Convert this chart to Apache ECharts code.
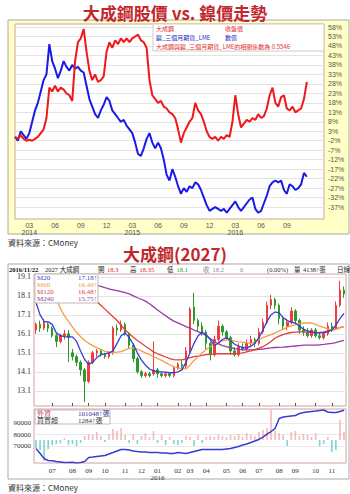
<!DOCTYPE html>
<html><head><meta charset="utf-8">
<script src="https://cdn.jsdelivr.net/npm/echarts@6/dist/echarts.min.js"></script>
<style>html,body{margin:0;padding:0;background:#fff;}#c{width:350px;height:494px;}</style>
</head><body><div id="c"></div><script>
// ---------- top chart: 10-day slots ----------
const topDates = [
'2014/01/11','2014/01/21',
'2014/02/01','2014/02/11','2014/02/21','2014/03/01','2014/03/11','2014/03/21',
'2014/04/01','2014/04/11','2014/04/21','2014/05/01','2014/05/11','2014/05/21',
'2014/06/01','2014/06/11','2014/06/21','2014/07/01','2014/07/11','2014/07/21',
'2014/08/01','2014/08/11','2014/08/21','2014/09/01','2014/09/11','2014/09/21',
'2014/10/01','2014/10/11','2014/10/21','2014/11/01','2014/11/11','2014/11/21',
'2014/12/01','2014/12/11','2014/12/21','2015/01/01','2015/01/11','2015/01/21',
'2015/02/01','2015/02/11','2015/02/21','2015/03/01','2015/03/11','2015/03/21',
'2015/04/01','2015/04/11','2015/04/21','2015/05/01','2015/05/11','2015/05/21',
'2015/06/01','2015/06/11','2015/06/21','2015/07/01','2015/07/11','2015/07/21',
'2015/08/01','2015/08/11','2015/08/21','2015/09/01','2015/09/11','2015/09/21',
'2015/10/01','2015/10/11','2015/10/21','2015/11/01','2015/11/11','2015/11/21',
'2015/12/01','2015/12/11','2015/12/21','2016/01/01','2016/01/11','2016/01/21',
'2016/02/01','2016/02/11','2016/02/21','2016/03/01','2016/03/11','2016/03/21',
'2016/04/01','2016/04/11','2016/04/21','2016/05/01','2016/05/11','2016/05/21',
'2016/06/01','2016/06/11','2016/06/21','2016/07/01','2016/07/11','2016/07/21',
'2016/08/01','2016/08/11','2016/08/21','2016/09/01','2016/09/11','2016/09/21',
'2016/10/01','2016/10/11','2016/10/21','2016/11/01','2016/11/11','2016/11/21',
'2016/12/01','2016/12/11','2016/12/21','2017/01/01','2017/01/11'];
const stockPct = [0,-1,1,-1,-2,-1.5,-2,-1,0,2, 4,10,26,24,27,24,26,25,23,22,
 19,40,50,52,57,45,35,30,33,29, 30,32,45,50,47,51,49,52,50,52,
 50,52,53,54,51,50,47,30,22,20, 18,19,16,15,13,12,10,4,-3,2,
 5,8,10,18,14,12,8,3,0,-1, 0,-2,0,-1,1,0,8,22,12,5,
 7,9,8,10,9,12,10,11,15,22, 26,18,16,21,22,15,14,16,13,14, 15,20,29];
const nickelPct = [0,-2,3,1,-1,2,8,14,18,24, 30,33,49,40,36,31,35,40,37,35,
 38,36,37,35,34,27,20,16,12,10, 14,17,21,19,14,12,10,8,9,6,
 4,2,-3,-9,-10,-6,-1,2,-3,-6, -3,-6,-12,-20,-23,-17,-21,-26,-30,-27,
 -29,-26,-27,-24,-25,-28,-32,-36,-39,-38, -37,-38,-39,-38,-40,-38,-36,-34,-37,-39,
 -37,-35,-33,-32,-38,-40,-39,-35,-31,-26, -24,-23,-24,-23,-28,-30,-25,-26,-28,-27, -25,-19,-21];
const pctTicks = [58,53,48,43,38,33,28,23,18,13,8,3,-2,-7,-12,-17,-22,-27,-32,-37];
const quarterMonths = ['03','06','09','12'];
const lastTopLabel = '2016/09/01';

// ---------- bottom chart: weekly ----------
const weeks = [
'2015-06-01','2015-06-08','2015-06-15','2015-06-22','2015-06-29','2015-07-06','2015-07-13','2015-07-20','2015-07-27',
'2015-08-03','2015-08-10','2015-08-17','2015-08-24','2015-08-31','2015-09-07','2015-09-14','2015-09-21','2015-09-28',
'2015-10-05','2015-10-12','2015-10-19','2015-10-26','2015-11-02','2015-11-09','2015-11-16','2015-11-23','2015-11-30',
'2015-12-07','2015-12-14','2015-12-21','2015-12-28','2016-01-04','2016-01-11','2016-01-18','2016-01-25','2016-02-01',
'2016-02-15','2016-02-22','2016-02-29','2016-03-07','2016-03-14','2016-03-21','2016-03-28','2016-04-04','2016-04-11',
'2016-04-18','2016-04-25','2016-05-02','2016-05-09','2016-05-16','2016-05-23','2016-05-30','2016-06-06','2016-06-13',
'2016-06-20','2016-06-27','2016-07-04','2016-07-11','2016-07-18','2016-07-25','2016-08-01','2016-08-08','2016-08-15',
'2016-08-22','2016-08-29','2016-09-05','2016-09-12','2016-09-19','2016-09-26','2016-10-03','2016-10-10','2016-10-17',
'2016-10-24','2016-10-31','2016-11-07','2016-11-14','2016-11-21'];
const monthTickWeeks = ['2015-06-29','2015-08-03','2015-08-31','2015-09-28','2015-11-02','2015-11-30','2015-12-28',
'2016-02-01','2016-02-29','2016-03-28','2016-05-02','2016-05-30','2016-06-27','2016-08-01','2016-08-29','2016-10-03','2016-10-31'];
const monthTickLabels = ['07','08','09','10','11','12','01\n2016','02','03','04','05','06','07','08','09','10','11'];
// [open, close, low, high]
const kData = [
[16.3,16.6,16.1,16.7],[16.6,16.4,16.2,16.8],[16.4,16.7,16.3,16.9],[16.6,16.4,16.2,16.7],[16.4,16.0,15.9,16.5],
[16.0,15.7,15.4,16.1],[15.7,16.0,15.6,16.1],[16.0,16.1,15.8,16.3],[16.1,15.9,14.6,16.3],[15.1,14.9,14.7,15.3],
[14.9,14.6,14.4,15.0],[14.6,14.2,13.9,14.7],[14.2,13.6,12.5,14.3],[13.6,14.6,13.5,14.7],[14.6,15.1,14.5,15.2],
[15.1,15.2,14.9,15.3],[15.2,15.0,14.9,15.3],[15.0,14.9,14.8,15.1],[14.9,15.1,14.8,15.2],[15.1,16.4,15.0,16.5],
[16.4,16.3,16.0,16.6],[16.3,16.6,16.2,16.8],[16.6,16.1,16.0,16.7],[16.1,15.5,15.3,16.2],[15.5,14.8,14.6,15.6],
[14.8,14.1,14.0,14.9],[14.1,13.9,13.8,14.2],[13.9,14.0,13.8,14.1],[14.0,13.9,13.8,14.1],[14.0,14.2,13.9,15.7],
[14.2,14.0,13.8,14.3],[14.0,13.9,13.8,14.1],[13.9,14.0,13.8,14.1],[14.0,13.9,13.8,14.1],[13.9,14.3,13.8,14.4],
[14.3,14.5,14.2,14.6],[14.5,14.4,14.2,14.7],[14.4,15.2,14.3,15.4],[15.2,17.4,15.1,17.5],[17.5,16.8,16.6,18.25],
[16.8,16.5,16.2,16.9],[16.5,16.2,16.0,16.7],[16.2,15.6,15.3,16.3],[15.6,15.0,14.7,15.7],[15.0,15.8,14.9,16.0],
[15.8,16.5,15.7,16.8],[16.5,16.2,16.0,16.6],[16.2,15.9,15.8,16.3],[15.9,15.2,15.0,16.0],[15.2,15.0,14.9,15.4],
[15.0,15.4,14.9,15.6],[15.4,15.3,15.2,15.6],[15.3,15.6,15.2,15.8],[15.6,15.8,15.4,16.0],[15.8,15.6,15.4,15.9],
[15.6,16.2,15.5,16.4],[16.2,16.7,16.1,16.9],[16.7,17.6,16.6,17.8],[17.6,17.9,17.4,18.15],[17.9,17.6,17.4,18.0],
[17.6,16.9,16.6,17.7],[16.9,16.5,16.3,17.0],[16.5,16.7,16.3,16.9],[16.7,17.3,16.6,17.5],[17.3,16.8,16.6,17.4],
[16.8,16.3,16.1,16.9],[16.3,16.2,16.0,16.5],[16.2,16.0,15.9,16.4],[16.0,16.3,15.9,16.4],[16.3,16.0,15.9,16.4],
[16.0,15.9,15.8,16.2],[15.9,16.1,15.8,16.2],[16.1,16.5,16.0,16.7],[16.5,16.4,16.2,16.7],[16.4,17.6,16.3,17.8],
[17.6,18.4,17.5,18.9],[18.4,18.2,18.0,18.6]];
const ma20 = [17.75,17.1,16.75,16.73,16.6,16.15,16.0,15.95,15.94,15.94,15.7,15.2,14.75,14.5,14.6,14.85,15.0,15.05,15.1,15.2,
15.6,16.0,16.15,15.9,15.55,15.1,14.73,14.45,14.25,14.15,14.1,14.1,14.08,14.05,14.05,14.1,14.2,14.6,15.1,15.6,
16.0,16.2,16.05,15.8,15.5,15.6,15.8,15.9,15.75,15.55,15.45,15.38,15.35,15.45,15.6,15.9,16.3,16.75,17.1,17.25,
17.2,16.95,16.8,16.72,16.67,16.5,16.35,16.25,16.2,16.15,16.15,16.15,16.2,16.3,16.55,16.9,17.18];
const ma60 = [null,null,null,null,18.3,17.95,17.45,17.05,16.75,16.45,16.18,15.95,15.75,15.6,15.48,15.37,15.28,15.18,15.13,15.12,
15.14,15.16,15.25,15.33,15.36,15.3,15.2,15.1,15.0,14.9,14.8,14.7,14.58,14.47,14.38,14.3,14.26,14.25,14.45,14.7,
14.9,15.1,15.28,15.42,15.55,15.67,15.73,15.78,15.77,15.72,15.68,15.66,15.62,15.6,15.68,15.8,15.9,15.98,16.06,16.15,
16.25,16.35,16.45,16.52,16.58,16.64,16.67,16.68,16.67,16.6,16.5,16.44,16.36,16.3,16.33,16.42,16.49];
const ma120 = [null,null,null,null,null,null,null,null,null,null,null,18.7,18.5,18.3,18.05,17.8,17.6,17.4,17.2,17.0,
16.8,16.55,16.3,16.12,15.92,15.75,15.6,15.45,15.3,15.15,15.05,14.97,14.88,14.8,14.74,14.73,14.73,14.78,14.85,14.9,
14.93,14.96,15.0,15.02,15.03,15.05,15.05,15.05,15.05,15.05,15.07,15.1,15.15,15.2,15.27,15.35,15.42,15.55,15.7,15.88,
15.98,16.06,16.13,16.17,16.19,16.2,16.2,16.18,16.16,16.15,16.17,16.2,16.25,16.3,16.36,16.43,16.48];
const ma240 = [null,null,null,null,null,null,null,null,null,null,null,null,null,null,18.72,18.65,18.6,18.53,18.47,18.42,
18.37,18.32,18.27,18.2,18.1,18.0,17.92,17.82,17.68,17.52,17.35,17.2,17.05,16.9,16.77,16.68,16.58,16.48,16.4,16.3,
16.22,16.12,16.0,15.85,15.7,15.58,15.48,15.42,15.37,15.32,15.28,15.25,15.25,15.25,15.26,15.28,15.3,15.33,15.36,15.38,
15.39,15.4,15.42,15.44,15.46,15.48,15.5,15.5,15.5,15.5,15.52,15.54,15.57,15.6,15.64,15.7,15.75];
const priceTicks = [13.1,14.1,15.1,16.1,17.1,18.1,19.1];
// foreign net buy/sell (張) and foreign holdings (張)
const netBuy = [-800,-1000,-2100,-900,-500,-400,-300,200,-500,-400,-600,-300,400,600,500,800,400,-200,600,1100,
900,1200,500,-300,600,-400,400,700,300,900,-300,500,-500,300,-400,-500,-300,400,300,-600,
500,-300,300,400,300,500,400,300,500,400,600,300,700,500,400,800,1000,1200,3000,900,
700,500,-600,800,900,400,600,500,300,700,-600,-400,300,-1200,-1000,2000,800];
const holdings = [67800,63500,59100,57400,57200,56500,56100,55700,55600,55800,55300,55700,56500,60000,60400,60900,61300,61700,63000,64300,
65700,67000,67000,66500,65700,65200,64800,64800,64300,64300,64300,63900,63900,63500,63500,64300,63900,63500,64300,65200,
66100,67000,67000,67000,67000,67000,67000,67400,67800,68700,69600,70900,71700,73000,74300,75700,77800,80400,82600,85200,
93900,95200,95700,96100,96500,98300,99100,99600,100000,100400,100900,101300,99600,99100,99100,100000,101048];
const volTicks = [70000,80000,90000];

const SERIF = '"Liberation Serif","Noto Sans CJK TC",serif';
const SANS = '"Liberation Sans","Noto Sans CJK TC",sans-serif';
const CJK = '"Noto Sans CJK TC","Noto Sans CJK SC",sans-serif';

function txt(text, x, y, color, font, align) {
  const a = align || 'left';
  return {type:'text', x:x, y:y, z:60, silent:true,
    style:{text:text, fill:color, font:font, align:a, textAlign:a, verticalAlign:'middle', textVerticalAlign:'middle'}};
}
function isMonthWeek(v){ return monthTickWeeks.indexOf(v) >= 0; }

const chart = echarts.init(document.getElementById('c'), null, {renderer:'svg', width:350, height:494});
const gridBorder = '#cfa2a2';
const H = '6.5px ';
const L = '6px ';
chart.setOption({
  animation:false,
  grid:[
    {left:15, top:24, width:309, height:195, show:true, backgroundColor:'#fff', borderColor:gridBorder, borderWidth:1, containLabel:false, outerBoundsMode:'none'},
    {left:34, top:274, width:312, height:132, show:true, backgroundColor:'#fff', borderColor:gridBorder, borderWidth:1, containLabel:false, outerBoundsMode:'none'},
    {left:34, top:409, width:312, height:54, show:true, backgroundColor:'#fff', borderColor:gridBorder, borderWidth:1, containLabel:false, outerBoundsMode:'none'}
  ],
  xAxis:[
    {gridIndex:0, type:'category', data:topDates, boundaryGap:false,
     axisLine:{show:false}, axisTick:{show:false},
     splitLine:{show:false},
     axisLabel:{interval:function(i,v){const p=v.split('/');return v<=lastTopLabel&&p[2]==='01'&&quarterMonths.indexOf(p[1])>=0;},
       formatter:function(v){const p=v.split('/');return p[1]==='03'?p[1]+'\n'+p[0]:p[1];},
       fontSize:7, lineHeight:7, color:'#555', margin:3, fontFamily:SANS}},
    {gridIndex:1, type:'category', data:weeks, boundaryGap:true,
     axisLine:{show:false}, axisLabel:{show:false},
     axisTick:{show:true, inside:true, length:3, alignWithLabel:true, interval:function(i,v){return isMonthWeek(v);}, lineStyle:{color:'#555'}},
     splitLine:{show:false}},
    {gridIndex:2, type:'category', data:weeks, boundaryGap:true,
     axisLine:{show:false}, axisTick:{show:false},
     axisLabel:{interval:function(i,v){return isMonthWeek(v);},
       formatter:function(v){return monthTickLabels[monthTickWeeks.indexOf(v)];},
       fontSize:7, lineHeight:7, color:'#333', margin:4, fontFamily:SERIF},
     splitLine:{show:false}}
  ],
  yAxis:[
    {gridIndex:0, type:'value', position:'right', min:-43.3, max:59.6,
     axisLine:{show:false}, axisTick:{show:false, customValues:pctTicks},
     axisLabel:{customValues:pctTicks, formatter:function(v){return v+'%';}, fontSize:7, color:'#555', margin:4, fontFamily:SANS},
     splitLine:{show:true, lineStyle:{color:'#e4e4e4', width:1}}},
    {gridIndex:1, type:'value', position:'left', min:12.3, max:19.25,
     axisLine:{show:false}, axisTick:{show:false, customValues:priceTicks},
     axisLabel:{customValues:priceTicks, formatter:function(v){return v.toFixed(1);}, fontSize:8, color:'#333', margin:3, fontFamily:SERIF},
     splitLine:{show:true, lineStyle:{color:'#e4e4e4', width:1}}},
    {gridIndex:2, type:'value', position:'left', min:55200, max:102200,
     axisLine:{show:false}, axisTick:{show:false, customValues:volTicks},
     axisLabel:{customValues:volTicks, formatter:function(v){return String(v);}, fontSize:7, color:'#333', margin:3, fontFamily:SERIF},
     splitLine:{show:true, lineStyle:{color:'#e8e8e8', width:1}}},
    {gridIndex:2, type:'value', min:-2300, max:3100, show:false, splitLine:{show:false}}
  ],
  series:[
    {type:'line', xAxisIndex:0, yAxisIndex:0, data:nickelPct, symbol:'none', lineStyle:{color:'#1a1ae6', width:2}, z:3},
    {type:'line', xAxisIndex:0, yAxisIndex:0, data:stockPct, symbol:'none', lineStyle:{color:'#f01818', width:2}, z:4},
    {type:'candlestick', xAxisIndex:1, yAxisIndex:1, data:kData, barWidth:'50%',
     itemStyle:{color:'#f03c3c', color0:'#2a9a2a', borderColor:'#f03c3c', borderColor0:'#2a9a2a', borderWidth:1}},
    {type:'line', xAxisIndex:1, yAxisIndex:1, data:ma240, symbol:'none', lineStyle:{color:'#9a3aa6', width:1.3}},
    {type:'line', xAxisIndex:1, yAxisIndex:1, data:ma120, symbol:'none', lineStyle:{color:'#e2403a', width:1.3}},
    {type:'line', xAxisIndex:1, yAxisIndex:1, data:ma60, symbol:'none', lineStyle:{color:'#f0a040', width:1.3}},
    {type:'line', xAxisIndex:1, yAxisIndex:1, data:ma20, symbol:'none', lineStyle:{color:'#3040d8', width:1.3}},
    {type:'bar', xAxisIndex:2, yAxisIndex:3, data:netBuy, barWidth:'40%',
     itemStyle:{color:function(p){return p.value>=0?'#f2baba':'#80d4d4';}}},
    {type:'line', xAxisIndex:2, yAxisIndex:2, data:holdings, symbol:'none', lineStyle:{color:'#3a3ad0', width:1.5}}
  ],
  graphic:[
    {type:'rect', z:-20, silent:true, shape:{x:8,y:20,width:341,height:214}, style:{fill:'#ffffc6', stroke:'#a9a9a9', lineWidth:1}},
    {type:'rect', z:-20, silent:true, shape:{x:8,y:264,width:341,height:215}, style:{fill:'#ffffff', stroke:'#a9a9a9', lineWidth:1}},
    txt('大成鋼股價 vs. 鎳價走勢', 175, 12, '#c1272d', 'bold 17px '+CJK, 'center'),
    {type:'rect', z:55, silent:true, shape:{x:153,y:24,width:171,height:27}, style:{fill:'#fff', stroke:'#cccccc', lineWidth:1}},
    txt('大成鋼', 156, 28.5, '#e03030', L+CJK),
    txt('收盤價', 225, 28.5, '#e03030', L+CJK),
    txt('鎳_三個月期貨_LME', 156, 37.5, '#2626c8', L+CJK),
    txt('數值', 225, 37.5, '#2626c8', L+CJK),
    txt('大成鋼與鎳_三個月期貨_LME的相關係數為 0.5546', 156, 46.5, '#e03030', L+CJK),
    txt('資料來源：CMoney', 8, 242, '#333', '8px '+CJK),
    txt('大成鋼(2027)', 175, 253.5, '#c1272d', 'bold 17px '+CJK, 'center'),
    txt('2016/11/22', 9, 269.5, '#111', 'bold '+H+SERIF),
    txt('2027 大成鋼', 45, 269.5, '#222', H+SERIF),
    txt('開', 98, 269.5, '#222', H+SERIF),
    txt('18.3', 107, 269.5, '#e02020', H+SERIF),
    txt('高', 130, 269.5, '#222', H+SERIF),
    txt('18.35', 139.5, 269.5, '#e02020', H+SERIF),
    txt('低', 167, 269.5, '#222', H+SERIF),
    txt('18.1', 176.5, 269.5, '#10a010', H+SERIF),
    txt('收', 203, 269.5, '#888', H+SERIF),
    txt('18.2', 212.5, 269.5, '#888', H+SERIF),
    txt('0', 240, 269.5, '#888', H+SERIF),
    txt('(0.00%)', 267, 269.5, '#333', H+SERIF),
    txt('量', 294, 269.5, '#222', H+SERIF),
    txt('4138↑張', 303, 269.5, '#222', H+SERIF),
    txt('日線', 337, 269.5, '#222', H+SERIF),
    {type:'rect', z:55, silent:true, shape:{x:35,y:274,width:63,height:29}, style:{fill:'#fff', stroke:'#bbbbbb', lineWidth:1}},
    txt('M20', 37, 278, '#3344cc', '7px '+SERIF),
    txt('17.18↑', 78, 278, '#3344cc', '7px '+SERIF),
    txt('M60', 37, 285, '#e8a040', '7px '+SERIF),
    txt('16.49↑', 78, 285, '#e8a040', '7px '+SERIF),
    txt('M120', 37, 292, '#e04040', '7px '+SERIF),
    txt('16.48↑', 78, 292, '#e04040', '7px '+SERIF),
    txt('M240', 37, 299, '#9040a0', '7px '+SERIF),
    txt('15.75↑', 78, 299, '#9040a0', '7px '+SERIF),
    {type:'rect', z:55, silent:true, shape:{x:35,y:410,width:75,height:14}, style:{fill:'#fff', stroke:'#bbbbbb', lineWidth:1}},
    txt('外資', 37, 413.5, '#c84060', '7px '+SERIF),
    txt('101048↑張', 78, 413.5, '#333399', '7px '+SERIF),
    txt('買賣超', 37, 420.5, '#333', '7px '+SERIF),
    txt('1284↑張', 78, 420.5, '#333', '7px '+SERIF),
    txt('資料來源：CMoney', 8, 487, '#333', '8px '+CJK)
  ]
});
</script></body></html>
